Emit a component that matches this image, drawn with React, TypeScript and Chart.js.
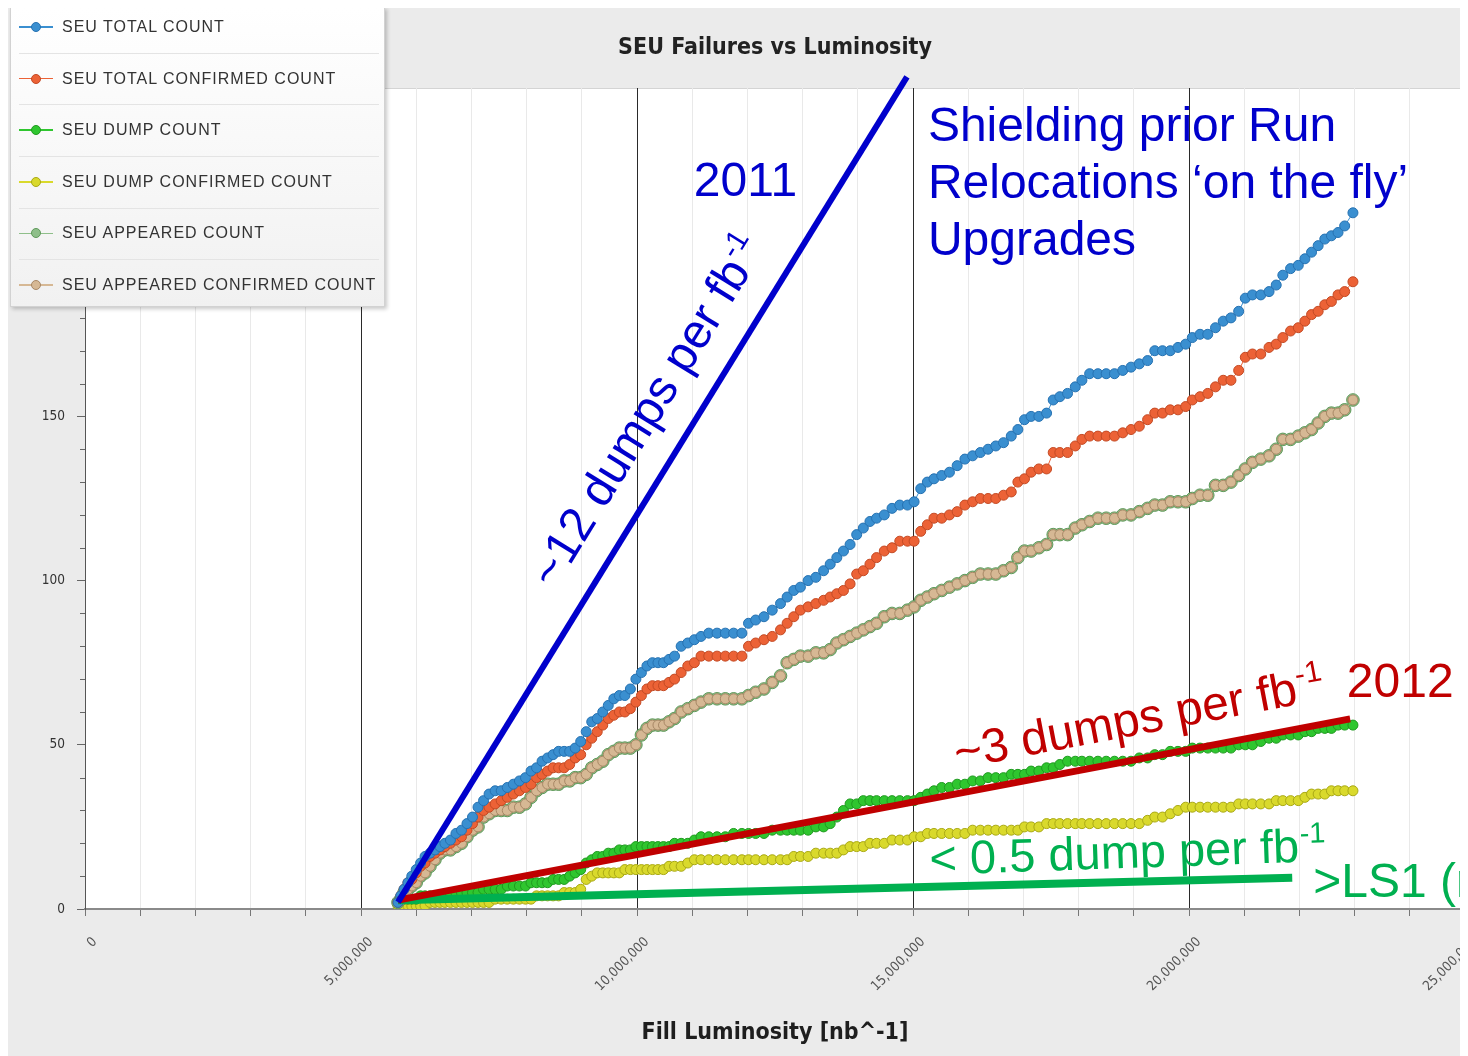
import React, { useEffect, useRef } from 'react';
import { Chart, registerables } from 'chart.js';

Chart.register(...registerables);

// Fill luminosity of each fill, in millions of nb^-1
const LUMI_M = [
  5.67, 5.72, 5.78, 5.85, 5.92, 6.0, 6.08, 6.16, 6.25, 6.34,
  6.43, 6.52, 6.62, 6.72, 6.82, 6.92, 7.02, 7.12, 7.22, 7.32,
  7.43, 7.54, 7.65, 7.76, 7.87, 7.98, 8.08, 8.18, 8.28, 8.38,
  8.48, 8.58, 8.68, 8.78, 8.88, 8.98, 9.08, 9.18, 9.28, 9.38,
  9.48, 9.58, 9.68, 9.78, 9.88, 9.98, 10.08, 10.18, 10.28, 10.38,
  10.48, 10.58, 10.68, 10.8, 10.92, 11.04, 11.16, 11.3, 11.45, 11.6,
  11.75, 11.9, 12.02, 12.15, 12.3, 12.45, 12.6, 12.72, 12.84, 12.96,
  13.1, 13.24, 13.38, 13.5, 13.62, 13.74, 13.86, 13.98, 14.1, 14.22,
  14.34, 14.48, 14.62, 14.76, 14.9, 15.02, 15.14, 15.26, 15.38, 15.52,
  15.66, 15.8, 15.94, 16.08, 16.22, 16.36, 16.5, 16.64, 16.78, 16.9,
  17.02, 17.14, 17.28, 17.42, 17.54, 17.66, 17.8, 17.94, 18.06, 18.2,
  18.35, 18.5, 18.65, 18.8, 18.95, 19.1, 19.25, 19.38, 19.52, 19.66,
  19.8, 19.94, 20.06, 20.2, 20.34, 20.48, 20.62, 20.76, 20.9, 21.02,
  21.15, 21.3, 21.45, 21.58, 21.7, 21.84, 21.98, 22.1, 22.22, 22.34,
  22.46, 22.58, 22.7, 22.82, 22.97,
];

const SEU_TOTAL = [
  2, 4, 6, 8, 10, 12, 14, 16, 17, 18,
  19, 20, 21, 23, 24, 26, 28, 31, 33, 35,
  36, 36, 37, 38, 39, 40, 42, 43, 45, 46,
  47, 48, 48, 48, 49, 51, 54, 57, 58, 60,
  62, 64, 65, 65, 67, 70, 72, 74, 75, 75,
  75, 76, 77, 80, 81, 82, 83, 84, 84, 84,
  84, 84, 87, 88, 89, 91, 93, 95, 97, 98,
  100, 101, 103, 105, 107, 109, 111, 114, 116, 118,
  119, 120, 122, 123, 123, 124, 128, 130, 131, 132,
  133, 135, 137, 138, 139, 140, 141, 142, 144, 146,
  149, 150, 150, 151, 155, 156, 157, 159, 161, 163,
  163, 163, 163, 164, 165, 166, 167, 170, 170, 170,
  171, 172, 174, 175, 175, 177, 179, 180, 182, 186,
  187, 187, 188, 190, 193, 195, 196, 198, 200, 202,
  204, 205, 206, 208, 212,
];

const SEU_TOTAL_CONFIRMED = [
  2, 4, 6, 8, 9, 11, 13, 14, 16, 17,
  18, 19, 20, 21, 22, 24, 26, 28, 30, 31,
  32, 33, 34, 35, 36, 37, 38, 40, 41, 42,
  43, 43, 43, 44, 46, 47, 50, 52, 54, 56,
  58, 59, 60, 60, 61, 63, 65, 67, 68, 68,
  68, 69, 70, 72, 74, 75, 77, 77, 77, 77,
  77, 77, 80, 81, 82, 83, 85, 87, 89, 91,
  92, 93, 94, 95, 96, 97, 99, 102, 103, 105,
  107, 109, 110, 112, 112, 112, 115, 117, 119, 119,
  120, 121, 123, 124, 125, 125, 125, 126, 127, 130,
  131, 133, 134, 134, 139, 139, 139, 141, 143, 144,
  144, 144, 144, 145, 146, 147, 149, 151, 151, 152,
  152, 153, 155, 156, 157, 159, 161, 161, 164, 168,
  169, 169, 171, 172, 174, 176, 177, 179, 181, 182,
  184, 185, 187, 188, 191,
];

const SEU_DUMP = [
  2, 3, 3, 3, 3, 3, 4, 4, 4, 4,
  4, 4, 4, 5, 5, 5, 5, 5, 6, 6,
  6, 6, 7, 7, 7, 7, 8, 8, 8, 8,
  9, 9, 9, 10, 11, 12, 14, 15, 16, 16,
  17, 17, 18, 18, 18, 19, 19, 19, 19, 19,
  19, 19, 20, 20, 20, 21, 22, 22, 22, 22,
  23, 23, 23, 23, 23, 24, 24, 24, 24, 24,
  24, 25, 25, 26, 28, 30, 32, 32, 33, 33,
  33, 33, 33, 33, 33, 33, 34, 35, 36, 37,
  37, 38, 38, 39, 39, 40, 40, 40, 41, 41,
  41, 42, 42, 43, 43, 44, 45, 45, 45, 45,
  45, 45, 45, 45, 45, 46, 46, 47, 47, 48,
  48, 48, 49, 49, 49, 49, 49, 49, 50, 50,
  50, 51, 52, 52, 53, 53, 53, 54, 54, 55,
  55, 55, 56, 56, 56,
];

const SEU_DUMP_CONFIRMED = [
  1, 1, 1, 1, 1, 1, 1, 1, 2, 2,
  2, 2, 2, 2, 2, 2, 2, 2, 2, 2,
  3, 3, 3, 3, 3, 3, 3, 4, 4, 4,
  4, 4, 5, 5, 5, 6, 9, 10, 11, 11,
  11, 11, 11, 12, 12, 12, 12, 12, 12, 12,
  12, 13, 13, 13, 14, 15, 15, 15, 15, 15,
  15, 15, 15, 15, 15, 15, 15, 15, 16, 16,
  16, 17, 17, 17, 17, 18, 19, 19, 19, 20,
  20, 20, 21, 21, 21, 22, 22, 23, 23, 23,
  23, 23, 23, 24, 24, 24, 24, 24, 24, 24,
  25, 25, 25, 26, 26, 26, 26, 26, 26, 26,
  26, 26, 26, 26, 26, 26, 27, 28, 28, 29,
  30, 31, 31, 31, 31, 31, 31, 31, 32, 32,
  32, 32, 32, 33, 33, 33, 33, 34, 35, 35,
  35, 36, 36, 36, 36,
];

const SEU_APPEARED = [
  2, 3, 5, 6, 7, 8, 10, 11, 13, 15,
  17, 18, 18, 19, 20, 22, 24, 25, 28, 29,
  30, 30, 30, 31, 31, 32, 34, 36, 37, 38,
  38, 38, 39, 39, 40, 40, 41, 43, 44, 45,
  47, 48, 49, 49, 49, 50, 53, 55, 56, 56,
  56, 57, 58, 60, 61, 62, 63, 64, 64, 64,
  64, 64, 65, 66, 67, 69, 71, 75, 76, 77,
  77, 78, 78, 79, 81, 82, 83, 84, 85, 86,
  87, 89, 90, 90, 91, 92, 94, 95, 96, 97,
  98, 99, 100, 101, 102, 102, 102, 103, 104, 107,
  109, 109, 110, 111, 114, 114, 114, 116, 117, 118,
  119, 119, 119, 120, 120, 121, 122, 123, 123, 124,
  124, 124, 125, 126, 126, 129, 129, 130, 132, 134,
  136, 137, 138, 140, 143, 143, 144, 145, 146, 148,
  150, 151, 151, 152, 155,
];

// in the picture the confirmed appeared dots sit exactly on the appeared dots
const SEU_APPEARED_CONFIRMED = SEU_APPEARED.slice();

// hand-drawn trend lines: [luminosity (M nb^-1), count]
const TREND_2011 = [[5.67, 2.1], [14.89, 253.4]];
const TREND_2012 = [[5.67, 2.7], [22.92, 57.9]];
const TREND_LS1 = [[5.67, 2.7], [21.87, 9.5]];

const Y_TICK_LABELS = [0, 50, 100, 150, 200, 250];
const X_TICK_LABELS = [0, 5000000, 10000000, 15000000, 20000000, 25000000];

const SERIES = [
  { label: 'SEU TOTAL COUNT', data: SEU_TOTAL, fill: '#3a8fd0', stroke: '#2672b2', r: 5, order: 1 },
  { label: 'SEU TOTAL CONFIRMED COUNT', data: SEU_TOTAL_CONFIRMED, fill: '#ec6236', stroke: '#c44a24', r: 5, order: 2 },
  { label: 'SEU DUMP COUNT', data: SEU_DUMP, fill: '#2fc62f', stroke: '#1f9a1f', r: 5, order: 5 },
  { label: 'SEU DUMP CONFIRMED COUNT', data: SEU_DUMP_CONFIRMED, fill: '#d9d92c', stroke: '#a9a915', r: 5, order: 6 },
  { label: 'SEU APPEARED COUNT', data: SEU_APPEARED, fill: '#8fbf8a', stroke: '#5f9a5a', r: 6.3, order: 4 },
  { label: 'SEU APPEARED CONFIRMED COUNT', data: SEU_APPEARED_CONFIRMED, fill: '#d6b894', stroke: '#a88866', r: 5, order: 3 },
];

const toPoints = (ys: number[]) => LUMI_M.map((m, i) => ({ x: m * 1e6, y: ys[i] }));
const toLine = (seg: number[][]) => seg.map(([m, y]) => ({ x: m * 1e6, y }));

const FONT_TXT = '"Liberation Sans", Arial, sans-serif';
const FONT_COND = '"DejaVu Sans Condensed", "DejaVu Sans", sans-serif';

function drawLabel(ctx: CanvasRenderingContext2D, text: string, x: number, y: number, angle: number, size: number, color: string, sup?: string) {
  ctx.save();
  ctx.translate(x, y);
  ctx.rotate(angle);
  ctx.fillStyle = color;
  ctx.textAlign = 'left';
  ctx.textBaseline = 'alphabetic';
  ctx.font = `${size}px ${FONT_TXT}`;
  ctx.fillText(text, 0, 0);
  if (sup) {
    const w = ctx.measureText(text).width;
    ctx.font = `${Math.round(size * 0.62)}px ${FONT_TXT}`;
    ctx.fillText(sup, w + 1, -size * 0.4);
  }
  ctx.restore();
}

const decor = {
  id: 'decor',
  beforeDraw(chart: any) {
    const { ctx, chartArea: a, width, height } = chart;
    ctx.save();
    ctx.fillStyle = '#ebebeb';
    ctx.fillRect(0, 0, width, height);
    ctx.fillStyle = '#ffffff';
    ctx.fillRect(a.left, a.top, a.right - a.left, a.bottom - a.top);
    ctx.strokeStyle = '#d4d4d4';
    ctx.lineWidth = 1;
    ctx.beginPath();
    ctx.moveTo(a.left, a.top + 0.5);
    ctx.lineTo(a.right, a.top + 0.5);
    ctx.stroke();
    ctx.fillStyle = '#222';
    ctx.font = `bold 23px ${FONT_COND}`;
    ctx.textAlign = 'center';
    ctx.textBaseline = 'middle';
    ctx.fillText('SEU Failures vs Luminosity', (a.left + a.right) / 2, 40);
    ctx.restore();
  },
  afterDraw(chart: any) {
    const { ctx, chartArea: a } = chart;
    const xs = chart.scales.x;
    const ys = chart.scales.y;
    // minor y ticks
    ctx.save();
    ctx.strokeStyle = '#666';
    ctx.lineWidth = 1;
    ys.ticks.forEach((t: any) => {
      if (t.value % 50 !== 0) {
        const py = Math.round(ys.getPixelForValue(t.value)) + 0.5;
        ctx.beginPath();
        ctx.moveTo(a.left - 5, py);
        ctx.lineTo(a.left, py);
        ctx.stroke();
      }
    });
    ctx.restore();

    const px = (m: number) => xs.getPixelForValue(m * 1e6);
    const py = (v: number) => ys.getPixelForValue(v);
    const ang = (seg: number[][]) => Math.atan2(py(seg[1][1]) - py(seg[0][1]), px(seg[1][0]) - px(seg[0][0]));

    const BLUE = '#0000cc';
    const RED = '#c00000';
    const GREEN = '#00b050';
    drawLabel(ctx, '2011', px(11.03), py(217.1), 0, 48, BLUE);
    drawLabel(ctx, 'Shielding prior Run', px(15.27), py(233.8), 0, 48, BLUE);
    drawLabel(ctx, 'Relocations \u2018on the fly\u2019', px(15.27), py(216.5), 0, 48, BLUE);
    drawLabel(ctx, 'Upgrades', px(15.27), py(199.1), 0, 48, BLUE);
    drawLabel(ctx, '~12 dumps per fb', px(8.51), py(97), ang(TREND_2011), 48, BLUE, '-1');
    drawLabel(ctx, '~3 dumps per fb', px(15.8), py(42.6), ang(TREND_2012), 48, RED, '-1');
    drawLabel(ctx, '2012', px(22.86), py(64.6), 0, 48, RED);
    drawLabel(ctx, '< 0.5 dump per fb', px(15.31), py(10.4), -2 * Math.PI / 180, 47, GREEN, '-1');
    drawLabel(ctx, '>LS1 (r', px(22.25), py(3.66), 0, 48, GREEN);
  },
};

function Legend() {
  return (
    <div
      style={{
        position: 'absolute', left: 2, top: -1, width: 375, height: 300,
        background: 'linear-gradient(#ffffff, #f1f1f1)', border: '1px solid #d2d2d2',
        boxShadow: '2px 2px 4px rgba(0,0,0,0.22)', boxSizing: 'border-box',
        fontFamily: FONT_TXT, fontSize: 16, color: '#333', letterSpacing: 1,
      }}
    >
      {SERIES.map((s, i) => {
        const cy = 19 + i * 51.6;
        return (
          <React.Fragment key={s.label}>
            <div style={{ position: 'absolute', left: 8, top: cy - 0.75, width: 34, height: 1.5, background: s.fill }} />
            <div style={{ position: 'absolute', left: 20, top: cy - 5, width: 8, height: 8, borderRadius: '50%', background: s.fill, border: `1px solid ${s.stroke}` }} />
            <div style={{ position: 'absolute', left: 51, top: cy - 10, height: 20, lineHeight: '20px', whiteSpace: 'nowrap' }}>{s.label}</div>
            {i < 5 && (
              <div style={{ position: 'absolute', left: 8, top: cy + 25.8, width: 360, height: 1, background: '#e4e4e4' }} />
            )}
          </React.Fragment>
        );
      })}
    </div>
  );
}

export default function App() {
  const ref = useRef<HTMLCanvasElement>(null);
  useEffect(() => {
    document.body.style.overflow = 'hidden';
    const datasets: any[] = [
      { label: 'trend2011', data: toLine(TREND_2011), showLine: true, borderColor: '#0000cc', borderWidth: 6, pointRadius: 0, order: 0, clip: false },
      { label: 'trend2012', data: toLine(TREND_2012), showLine: true, borderColor: '#c00000', borderWidth: 7, pointRadius: 0, order: 0, clip: false },
      { label: 'trendLS1', data: toLine(TREND_LS1), showLine: true, borderColor: '#00b050', borderWidth: 8, pointRadius: 0, order: 0, clip: false },
      ...SERIES.map((s) => ({
        label: s.label,
        data: toPoints(s.data),
        showLine: true,
        borderColor: s.fill,
        borderWidth: 1,
        pointRadius: s.r,
        pointBackgroundColor: s.fill,
        pointBorderColor: s.stroke,
        pointBorderWidth: 1,
        order: s.order,
      })),
    ];
    const chart = new Chart(ref.current as HTMLCanvasElement, {
      type: 'scatter',
      data: { datasets },
      options: {
        animation: false,
        responsive: false,
        layout: { autoPadding: false, padding: { top: 80, right: 3, left: 0, bottom: 0 } },
        plugins: { legend: { display: false }, tooltip: { enabled: false }, title: { display: false } },
        scales: {
          x: {
            type: 'linear',
            min: 0,
            max: 25000000,
            afterFit: (s: any) => { s.height = 147; s.paddingLeft = 0; s.paddingRight = 0; },
            ticks: {
              stepSize: 1000000,
              autoSkip: false,
              minRotation: 45,
              maxRotation: 45,
              padding: 18,
              labelOffset: 10,
              color: '#555',
              font: { family: FONT_COND, size: 13.5 },
              callback: (v: any) => (X_TICK_LABELS.includes(Number(v)) ? Number(v).toLocaleString('en-US') : ''),
            },
            grid: {
              color: (c: any) => (c.tick && c.tick.value % 5000000 === 0 ? '#2a2a2a' : '#e9e9e9'),
              lineWidth: 1,
              tickLength: 7,
              tickColor: '#777',
            },
            border: { color: '#8a8a8a', width: 2 },
            title: {
              display: true,
              text: 'Fill Luminosity [nb^-1]',
              color: '#1e1e1e',
              font: { family: FONT_COND, size: 23, weight: 'bold' },
              padding: { top: 4, bottom: 9 },
            },
          },
          y: {
            type: 'linear',
            min: 0,
            max: 250,
            afterFit: (s: any) => { s.width = 77; },
            ticks: {
              stepSize: 10,
              autoSkip: false,
              padding: 12,
              color: '#333',
              font: { family: FONT_COND, size: 13.5 },
              callback: (v: any) => (Y_TICK_LABELS.includes(Number(v)) ? String(v) : ''),
            },
            grid: {
              drawOnChartArea: false,
              tickLength: 8,
              tickColor: (c: any) => (c.tick && c.tick.value % 50 === 0 ? '#666' : 'rgba(0,0,0,0)'),
            },
            border: { color: '#555', width: 1 },
          },
        },
      } as any,
      plugins: [decor],
    });
    return () => chart.destroy();
  }, []);

  return (
    <div style={{ position: 'relative', width: 1460, height: 1048 }}>
      <canvas ref={ref} width={1460} height={1048} style={{ display: 'block' }} />
      <Legend />
    </div>
  );
}
